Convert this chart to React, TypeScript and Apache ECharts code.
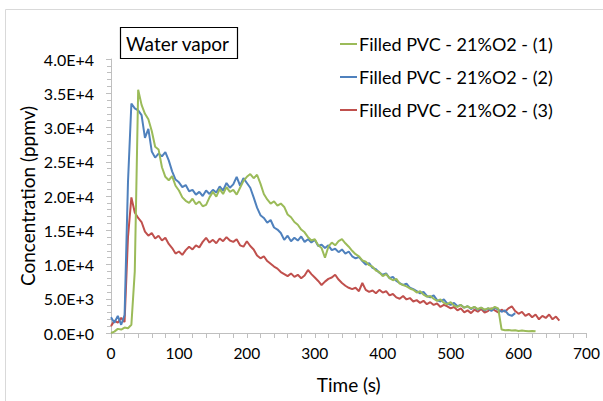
import React, { useEffect, useRef } from "react";
import * as echarts from "echarts";

const STEP = 5;
const seriesNames = ["Filled PVC - 21%O2 - (1)", "Filled PVC - 21%O2 - (2)", "Filled PVC - 21%O2 - (3)"];
const seriesColors = ["#9BBB59", "#4F81BD", "#C0504D"];
const xTicks = [0, 100, 200, 300, 400, 500, 600, 700];
const yTicks = [0, 5000, 10000, 15000, 20000, 25000, 30000, 35000, 40000];

const green = [
  0, 200, 600, 500, 800, 700, 1200, 9000, 35500, 33300, 32000, 31200, 29500, 27200, 26800, 24200,
  22800, 22300, 22900, 21500, 20800, 19800, 19300, 19000, 19600, 18800, 19200, 18500, 18700, 19800,
  20600, 19900, 21000, 20300, 21300, 20600, 20900, 20200, 21200, 22200, 22800, 23200, 22600, 23100,
  21800, 20300, 19500, 18900, 19200, 18600, 18900, 18400, 17300, 16900, 16200, 15800, 15100, 14700,
  14000, 13500, 13700, 12800, 12400, 11000, 12600, 13200, 12800, 13400, 13700, 13100, 12600, 12000,
  11500, 11200, 10600, 10400, 9900, 9700, 9100, 8900, 8300, 8600, 8000, 7700, 7900, 7200, 7000, 6800,
  6500, 6300, 5900, 6100, 5600, 5300, 5400, 5000, 4700, 4900, 4400, 4200, 4500, 4000, 3800, 4100,
  3700, 3900, 3600, 3800, 3500, 3700, 3400, 3600, 3500, 3800, 3600, 500, 400, 450, 350, 400, 300,
  350, 300, 250, 300, 250,
];

const blue = [
  2300, 1500, 2500, 1200, 2600, 22000, 33500, 32800, 32500, 31800, 28500, 29800, 26500, 25600, 26200,
  25800, 26400, 25200, 23600, 22400, 22000, 21300, 21600, 20700, 20900, 20200, 20600, 20000, 20800,
  20300, 20900, 20500, 21400, 20800, 21900, 21200, 21700, 22800, 21500, 22600, 21900, 21200, 19800,
  18300, 17200, 16800, 16100, 16500, 15400, 15100, 14600, 13600, 14200, 13400, 13900, 13500, 14100,
  13300, 13700, 13200, 13600, 12700, 12900, 12400, 12800, 12100, 12300, 11800, 12200, 11600, 11900,
  11200, 10900, 11100, 10500, 10000, 10200, 9500, 9300, 8800, 8500, 8700, 8000, 8200, 7600, 7300,
  7000, 7200, 6600, 6400, 6100, 5800, 6000, 5400, 5200, 5500, 4800, 4600, 4900, 4300, 4100, 4400,
  3900, 4100, 3700, 3900, 3500, 3800, 3400, 3700, 3300, 3600, 3200, 3700, 3400, 3100, 3300, 2700,
  2500, 2900,
];

const red = [
  1000, 1800, 1500, 2200, 1600, 14000, 19800, 17600, 16800, 16200, 14800, 14200, 14600, 13800, 14200,
  13500, 13900, 13000, 12400, 11600, 11900, 11400, 12100, 12600, 12200, 12800, 12500, 13300, 13900,
  13200, 13600, 13100, 13800, 13400, 14000, 13500, 13300, 13700, 12800, 12600, 13400, 12700, 12200,
  11300, 10900, 11200, 10500, 10100, 9700, 9400, 8900, 8600, 8300, 8700, 8200, 8500, 8000, 8400,
  9200, 8600, 8100, 7600, 7000, 7500, 7900, 8100, 8500, 7800, 7300, 6900, 6600, 6400, 6600, 6100,
  7300, 6300, 6000, 6200, 5800, 6300, 5900, 6100, 5500, 5700, 5200, 5000, 5400, 4900, 5100, 4600,
  4800, 4400, 4700, 4200, 4500, 4100, 4300, 3800, 4100, 3900, 3600, 3800, 3300, 3600, 3000, 3300,
  2900, 3400, 3100, 3500, 3000, 3200, 3600, 3300, 3000, 3400, 3100, 3600, 3900, 3200, 2800, 3100,
  2500, 2800, 2300, 2700, 2000, 2500, 2200, 2700, 2000, 2400, 1800,
];

const seriesValues = [green, blue, red];
const FONT = "Lato";

export default function App() {
  const ref = useRef<HTMLDivElement>(null);
  useEffect(() => {
    if (!ref.current) return;
    const chart = echarts.init(ref.current, undefined, { renderer: "svg" });
    const fmt = (v: number) => v.toExponential(1).replace("e", "E");
    chart.setOption({
      animation: false,
      backgroundColor: "#ffffff",
      textStyle: { fontFamily: FONT },
      grid: { left: 111, right: 16, top: 59, bottom: 68, containLabel: false },
      legend: {
        orient: "vertical",
        left: 335,
        top: 28,
        itemWidth: 17,
        itemHeight: 2,
        itemGap: 11,
        icon: "rect",
        data: seriesNames,
        textStyle: { fontFamily: FONT, fontSize: 18, color: "#000", lineHeight: 22, padding: [0, 0, 0, -3] },
      },
      xAxis: {
        type: "value",
        min: xTicks[0],
        max: xTicks[xTicks.length - 1],
        interval: 100,
        name: "Time (s)",
        nameLocation: "middle",
        nameGap: 42,
        nameMoveOverlap: false,
        nameTextStyle: { fontFamily: FONT, fontSize: 19, color: "#000" },
        axisLine: { show: true, lineStyle: { color: "#bfbfbf", width: 1 } },
        axisTick: { show: true, length: 5, lineStyle: { color: "#bfbfbf" } },
        minorTick: { show: true, splitNumber: 5, length: 5, lineStyle: { color: "#bfbfbf" } },
        splitLine: { show: false },
        axisLabel: { fontFamily: FONT, fontSize: 15.5, color: "#000", margin: 12 },
      },
      yAxis: {
        type: "value",
        min: yTicks[0],
        max: yTicks[yTicks.length - 1],
        interval: 5000,
        name: "Concentration (ppmv)",
        nameLocation: "middle",
        nameGap: 74,
        nameMoveOverlap: false,
        nameTextStyle: { fontFamily: FONT, fontSize: 19, color: "#000" },
        axisLine: { show: true, lineStyle: { color: "#bfbfbf", width: 1 } },
        axisTick: { show: true, length: 5, lineStyle: { color: "#bfbfbf" } },
        minorTick: { show: true, splitNumber: 5, length: 4, lineStyle: { color: "#bfbfbf" } },
        splitLine: { show: false },
        axisLabel: { fontFamily: FONT, fontSize: 16, color: "#000", margin: 17, formatter: fmt },
      },
      graphic: [
        {
          type: "rect",
          shape: { x: 5.5, y: 9.5, width: 640, height: 440 },
          style: { fill: "none", stroke: "#d9d9d9", lineWidth: 1 },
          silent: true,
          z: -10,
        },
        {
          type: "rect",
          shape: { x: 120.5, y: 27.5, width: 117, height: 31 },
          style: { fill: "#fff", stroke: "#000", lineWidth: 1.2 },
          z: 10,
        },
        {
          type: "text",
          x: 126,
          y: 43,
          style: { text: "Water vapor", fontFamily: FONT, fontSize: 19, fill: "#000", verticalAlign: "middle" },
          z: 11,
        },
      ],
      series: seriesNames.map((name, i) => ({
        name,
        type: "line",
        showSymbol: false,
        symbol: "none",
        color: seriesColors[i],
        lineStyle: { width: 2, color: seriesColors[i] },
        data: seriesValues[i].map((v, k) => [k * STEP, v]),
        z: 3 - i,
      })),
    });
    return () => chart.dispose();
  }, []);
  return <div ref={ref} style={{ position: "fixed", left: 0, top: 0, width: 603, height: 401 }} />;
}
